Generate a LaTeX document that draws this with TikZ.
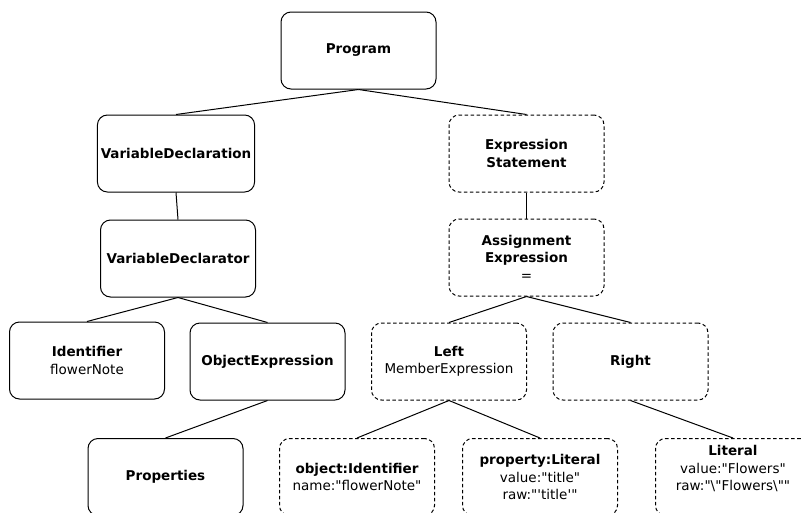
\documentclass[tikz,border=0pt]{standalone}
\usepackage{fontspec}
\setmainfont{DejaVu Sans}
\newcommand{\dq}{\textquotedbl}
\newcommand{\sq}{\textquotesingle}
\begin{document}
\begin{tikzpicture}
[x=1pt,y=-1pt,%
 boxstyle/.style={draw,line width=1pt,rounded corners=10pt,minimum width=155pt,minimum height=77pt,align=center,font=\fontsize{13.5}{17.5}\selectfont},%
 dashedboxstyle/.style={boxstyle,dash pattern=on 3.5pt off 2.5pt},%
 linestyle/.style={line width=1pt}]
\clip (0,0) rectangle (801,512);
%% statement nodes
\node[boxstyle] (prog) at (358.5,50.5) {\textbf{Program}};
\node[boxstyle] (vdecl) at (176,153.5) {\textbf{VariableDeclaration}};
\node[boxstyle] (vdtor) at (178,258.5) {\textbf{VariableDeclarator}};
\node[dashedboxstyle] (exprstmt) at (526.5,153.5) {\textbf{Expression}\\\textbf{Statement}};
\node[dashedboxstyle] (assign) at (526.5,257.5) {\textbf{Assignment}\\\textbf{Expression}\\=};
%% middle row
\node[boxstyle] (ident) at (87,360.5) {\textbf{Identifier}\\flowerNote};
\node[boxstyle] (objexpr) at (267.5,361.5) {\textbf{ObjectExpression}};
\node[dashedboxstyle] (left) at (449,361.5) {\textbf{Left}\\MemberExpression};
\node[dashedboxstyle] (right) at (630.5,361.5) {\textbf{Right}};
%% bottom row
\node[boxstyle] (props) at (165.5,477) {\textbf{Properties}};
\node[dashedboxstyle] (objid) at (357,477) {\textbf{object:Identifier}\\name:\dq flowerNote\dq};
\node[dashedboxstyle] (proplit) at (540,477) {\textbf{property:Literal}\\value:\dq title\dq\\raw:\dq\sq title\sq\dq};
\node[dashedboxstyle] (literal) at (733,477) {\textbf{Literal}\\value:\dq Flowers\dq\\raw:\dq\textbackslash\dq Flowers\textbackslash\dq\dq\\[0pt]};
%% connectors
\draw[linestyle] (prog.south) -- (vdecl.north);
\draw[linestyle] (prog.south) -- (exprstmt.north);
\draw[linestyle] (vdecl.south) -- (vdtor.north);
\draw[linestyle] (exprstmt.south) -- (assign.north);
\draw[linestyle] (vdtor.south) -- (ident.north);
\draw[linestyle] (vdtor.south) -- (objexpr.north);
\draw[linestyle] (objexpr.south) -- (props.north);
\draw[linestyle] (assign.south) -- (left.north);
\draw[linestyle] (assign.south) -- (right.north);
\draw[linestyle] (left.south) -- (objid.north);
\draw[linestyle] (left.south) -- (proplit.north);
\draw[linestyle] (right.south) -- (literal.north);
\end{tikzpicture}
\end{document}
